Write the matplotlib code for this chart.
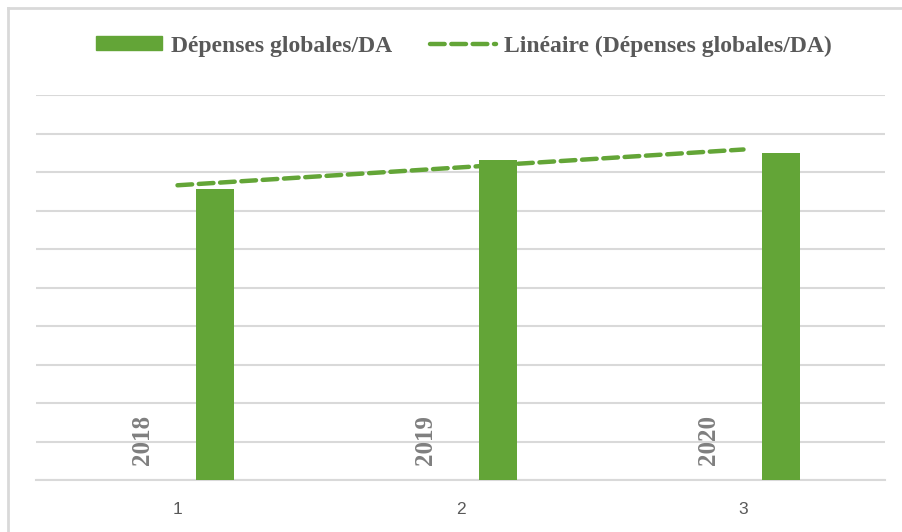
import numpy as np
import matplotlib.pyplot as plt
from matplotlib.lines import Line2D

# données (unités de la grille)
categories = [1, 2, 3]
annees = ['2018', '2019', '2020']
depenses = [7.56, 8.31, 8.49]

vert = '#63A537'
gris_grille = '#D9D9D9'
gris_texte = '#595959'


def draw_depenses():
    fig = plt.figure(figsize=(9.03, 5.32), dpi=100)
    ax = fig.add_axes([36 / 903, 1 - 480 / 532, 849 / 903, 385 / 532])

    x = np.array(categories, dtype=float)
    ax.bar(x + 0.133, depenses, width=0.134, color=vert, zorder=3,
           label='Dépenses globales/DA')

    # courbe de tendance linéaire
    a, b = np.polyfit(x, depenses, 1)
    ax.plot(x, a * x + b, color=vert, lw=3.2, ls=(0, (3.3, 1.5)),
            dash_capstyle='round', zorder=4)

    # étiquettes des années
    for xi, an in zip(x, annees):
        ax.text(xi - 0.122, 0.4, an, rotation=90, ha='center', va='bottom',
                fontsize=18, fontweight='bold', color='#7F7F7F',
                family='Liberation Serif', zorder=5)

    ax.set_xlim(0.5, 3.5)
    ax.set_ylim(0, 10)
    ax.set_yticks(range(0, 11))
    ax.set_xticks(categories)
    ax.set_xticklabels([str(c) for c in categories], fontsize=12.5,
                       color=gris_texte, family='Liberation Sans')
    ax.tick_params(axis='x', length=0, pad=16)
    ax.tick_params(axis='y', length=0, labelleft=False)
    ax.grid(axis='y', color=gris_grille, lw=1.5, zorder=0)
    for s in ['top', 'right', 'left']:
        ax.spines[s].set_visible(False)
    ax.spines['bottom'].set_color(gris_grille)
    ax.spines['bottom'].set_linewidth(1.5)

    handles = [
        plt.Rectangle((0, 0), 1, 1, color=vert),
        Line2D([0], [0], color=vert, lw=3.2, ls=(0, (3.3, 1.5)),
               dash_capstyle='round'),
    ]
    labels = ['Dépenses globales/DA', 'Linéaire (Dépenses globales/DA)']
    leg = fig.legend(handles, labels, loc='center', ncol=2,
                     bbox_to_anchor=(464 / 903, 1 - 46 / 532), frameon=False,
                     handlelength=2.8, handleheight=0.5, handletextpad=0.35,
                     columnspacing=1.6,
                     prop={'family': 'Liberation Serif', 'weight': 'bold',
                           'size': 17})
    for t in leg.get_texts():
        t.set_color(gris_texte)

    # bord du graphique (haut et gauche)
    fig.add_artist(Line2D([7.5 / 903, 7.5 / 903], [0, 1 - 8 / 532],
                          color=gris_grille, lw=2))
    fig.add_artist(Line2D([7.5 / 903, 1], [1 - 8 / 532, 1 - 8 / 532],
                          color=gris_grille, lw=2))

    fig.savefig('out.png', dpi=100)


def main():
    draw_depenses()


if __name__ == '__main__':
    main()
